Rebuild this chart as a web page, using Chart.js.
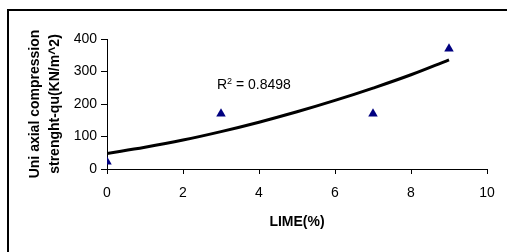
<!DOCTYPE html>
<html>
<head>
<meta charset="utf-8">
<script src="https://cdn.jsdelivr.net/npm/chart.js@4/dist/chart.umd.min.js"></script>
<style>
  html, body { margin: 0; padding: 0; background: #fff; }
  #wrap { width: 507px; height: 252px; }
</style>
</head>
<body>
<div id="wrap"><canvas id="myChart"></canvas></div>
<script>
// измеренные точки
const limeX = [0, 3, 7, 9];
const strength = [22, 170, 170, 370];

// линия тренда
const trendX = [0, 1, 2, 3, 4, 5, 6, 7, 8, 9];
const trendY = [48, 67, 89, 115, 144, 176, 211, 249, 290, 336];

const xTicks = [0, 2, 4, 6, 8, 10];
const yTicks = [0, 100, 200, 300, 400];
const r2Text = '0.8498';

const font = "'Liberation Sans', Arial, sans-serif";

// рамка и подпись R²
const extras = {
  id: 'extras',
  afterDraw(chart) {
    const ctx = chart.ctx;
    ctx.save();
    ctx.strokeStyle = '#000';
    ctx.lineWidth = 2;
    ctx.beginPath();
    ctx.moveTo(8, 260);
    ctx.lineTo(8, 10);
    ctx.lineTo(520, 10);
    ctx.stroke();

    ctx.fillStyle = '#000';
    ctx.textBaseline = 'alphabetic';
    ctx.font = '14px ' + font;
    let x = 217;
    const y = 89;
    ctx.fillText('R', x, y);
    x += ctx.measureText('R').width;
    ctx.font = '9px ' + font;
    ctx.fillText('2', x, y - 5);
    x += ctx.measureText('2').width;
    ctx.font = '14px ' + font;
    ctx.fillText(' = ' + r2Text, x, y);
    ctx.restore();
  }
};

const data = {
  datasets: [{
    label: 'trend',
    data: trendX.map((v, i) => ({x: v, y: trendY[i]})),
    showLine: true,
    borderColor: '#000',
    borderWidth: 3,
    pointRadius: 0,
    tension: 0.4
  }, {
    label: 'points',
    data: limeX.map((v, i) => ({x: v, y: strength[i]})),
    pointStyle: 'triangle',
    pointRadius: 5.5,
    backgroundColor: '#000080',
    borderColor: '#000080',
    borderWidth: 0
  }]
};

const config = {
  type: 'scatter',
  data: data,
  options: {
    responsive: false,
    animation: false,
    layout: { padding: { left: 0, top: 39, right: 20, bottom: 0 } },
    plugins: { legend: { display: false }, tooltip: { enabled: false } },
    scales: {
      x: {
        type: 'linear', min: 0, max: 10,
        afterFit(s) { s.height = 83; },
        afterBuildTicks(s) { s.ticks = xTicks.map(v => ({value: v})); },
        grid: { drawOnChartArea: false, color: '#000', tickLength: 5 },
        border: { color: '#000', width: 1 },
        ticks: { color: '#000', padding: 11, maxRotation: 0, font: { family: font, size: 14 } },
        title: {
          display: true, text: 'LIME(%)', color: '#000',
          font: { family: font, size: 14, weight: 'bold' },
          padding: { top: 0, bottom: 21 }
        }
      },
      y: {
        min: 0, max: 400,
        afterFit(s) { s.width = 107; },
        afterBuildTicks(s) { s.ticks = yTicks.map(v => ({value: v})); },
        grid: { drawOnChartArea: false, color: '#000', tickLength: 6 },
        border: { color: '#000', width: 1 },
        ticks: { color: '#000', padding: 4, font: { family: font, size: 14 } },
        title: {
          display: true,
          text: ['Uni axial compression', 'strenght-qu(KN/m^2)'],
          color: '#000',
          font: { family: font, size: 14, weight: 'bold', lineHeight: '20px' },
          padding: { top: 25, bottom: 0 }
        }
      }
    }
  },
  plugins: [extras]
};

const canvas = document.getElementById('myChart');
canvas.width = 507;
canvas.height = 252;
const myChart = new Chart(canvas, config);
</script>
</body>
</html>
